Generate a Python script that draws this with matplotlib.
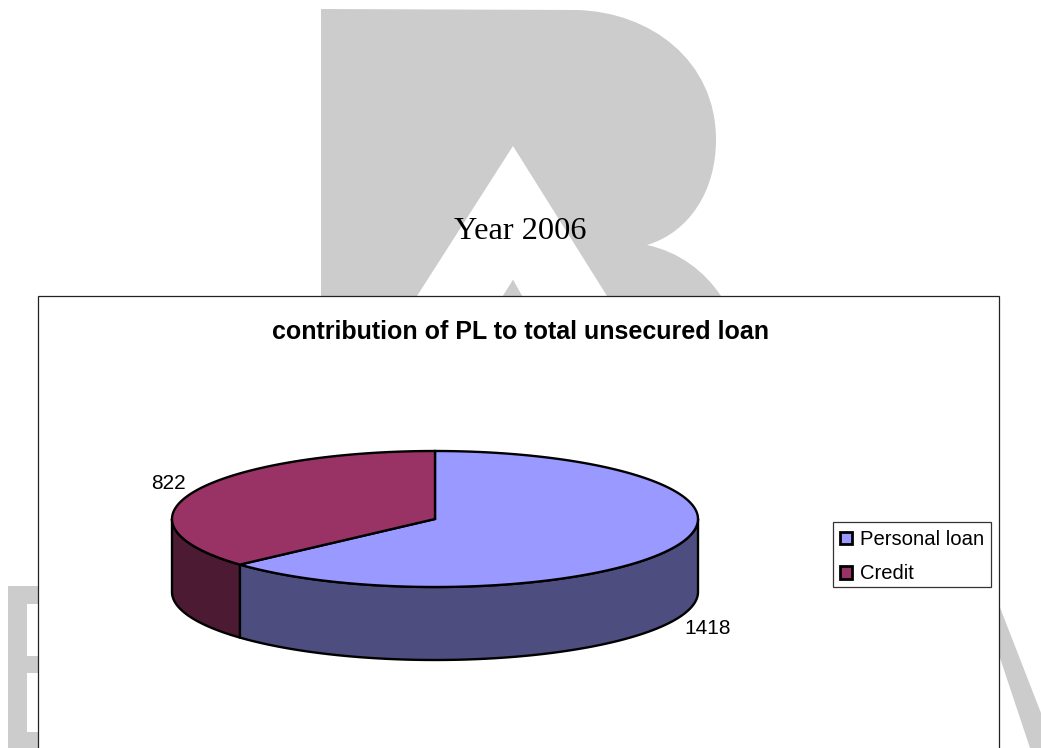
import numpy as np
import matplotlib
matplotlib.use("Agg")
import matplotlib.pyplot as plt
from matplotlib.patches import Polygon, Rectangle, PathPatch, Patch
from matplotlib.path import Path

# Chart data
categories = ["Personal loan", "Credit"]
values = [1418, 822]
top_colors = ["#9999FF", "#993366"]
side_colors = ["#4D4D80", "#4D1A33"]
chart_title = "contribution of PL to total unsecured loan"
page_heading = "Year 2006"

GRAY = "#CCCCCC"
INK = "#000000"

# Pie geometry in page pixels
CX, CY, RX, RY, DEPTH = 435.0, 519.0, 263.0, 68.0, 73.0

fig = plt.figure(figsize=(10.41, 7.48), dpi=100, facecolor="white")
ax = fig.add_axes([0, 0, 1, 1])
ax.set_xlim(0, 1041)
ax.set_ylim(748, 0)
ax.axis("off")


def rim(a0, a1, n=240):
    """Points on the top ellipse; angles are degrees clockwise from 12 o'clock."""
    t = np.radians(np.linspace(a0, a1, n))
    return np.column_stack([CX + RX * np.sin(t), CY - RY * np.cos(t)])


# Background letterforms of the page
M, L, C = Path.MOVETO, Path.LINETO, Path.CURVE4
letter_r = [
    (M, (321, 9)), (L, (577, 10)),
    (C, (650, 12)), (C, (716, 60)), (C, (716, 140)),
    (C, (716, 190)), (C, (690, 232)), (C, (647, 245)),
    (C, (680, 252)), (C, (705, 272)), (C, (721, 296)),
    (L, (522, 296)), (L, (513, 280)), (L, (503, 296)),
    (L, (607, 296)), (L, (513, 146)), (L, (417, 296)),
    (L, (321, 296)), (Path.CLOSEPOLY, (321, 9)),
]
ax.add_patch(PathPatch(Path([p for _, p in letter_r], [c for c, _ in letter_r]),
                       fc=GRAY, ec="none", zorder=1))
ax.add_patch(Polygon([(503, 296), (513, 280), (522, 296)], fc=GRAY, ec="none", zorder=1))

# Letter E at the lower left
ax.add_patch(Rectangle((8, 586), 31, 162, fc=GRAY, ec="none", zorder=1))
for y0, y1 in [(604, 656), (673, 732)]:
    ax.add_patch(Rectangle((27, y0), 12, y1 - y0, fc="white", ec="none", zorder=1))

# Diagonal stroke at the lower right
ax.add_patch(Polygon([(999, 605), (1041, 713), (1041, 748), (1030, 748), (999, 655)],
                     fc=GRAY, ec="none", zorder=1))

ax.text(520.5, 231, page_heading, family="Liberation Serif", fontsize=23.3,
        color=INK, ha="center", va="center", zorder=3)

# Chart frame runs off the bottom of the page
ax.add_patch(Rectangle((38, 296), 961, 470, fc="white", ec="#222222", lw=0.9,
                       zorder=2, clip_on=True))
ax.text(520.5, 332, chart_title, family="Liberation Sans", fontsize=18.0,
        fontweight="bold", color=INK, ha="center", va="center", zorder=3)

# Slice spans, clockwise from 12 o'clock
sweeps = 360.0 * np.array(values) / np.sum(values)
ends = np.cumsum(sweeps)
starts = ends - sweeps

# Outer wall: only the front half of the ellipse (90..270 degrees) is visible
for a0, a1, col in zip(starts, ends, side_colors):
    lo, hi = max(a0, 90.0), min(a1, 270.0)
    if hi <= lo:
        continue
    upper = rim(lo, hi)
    lower = upper[::-1] + [0, DEPTH]
    ax.add_patch(Polygon(np.vstack([upper, lower]), closed=True, fc=col, ec=INK,
                         lw=1.7, joinstyle="round", zorder=4))

# Top faces
for a0, a1, col in zip(starts, ends, top_colors):
    pts = np.vstack([[CX, CY], rim(a0, a1)])
    ax.add_patch(Polygon(pts, closed=True, fc=col, ec=INK, lw=1.7,
                         joinstyle="miter", zorder=5))

# Value labels
label_xy = [(708, 628), (168, 483)]
for v, (x, y) in zip(values, label_xy):
    ax.text(x, y, str(v), family="Liberation Sans", fontsize=15.0, color=INK,
            ha="center", va="center", zorder=6)

# Legend: the box is a separate rectangle so its padding can differ per side
ax.add_patch(Rectangle((833, 522), 158, 65, fc="white", ec="#333333", lw=0.9, zorder=6))
handles = [Patch(fc=c, ec=INK, lw=2.0, label=n) for c, n in zip(top_colors, categories)]
leg = ax.legend(handles=handles, loc="upper left",
                bbox_to_anchor=(840 / 1041, 1 - 530 / 748),
                bbox_transform=fig.transFigure, borderaxespad=0, borderpad=0,
                prop={"family": "Liberation Sans", "size": 14.6},
                frameon=False,
                handlelength=0.58, handleheight=0.58, handletextpad=0.4,
                labelspacing=0.76)
leg.set_zorder(7)

fig.savefig("out.png", dpi=100, facecolor="white")
